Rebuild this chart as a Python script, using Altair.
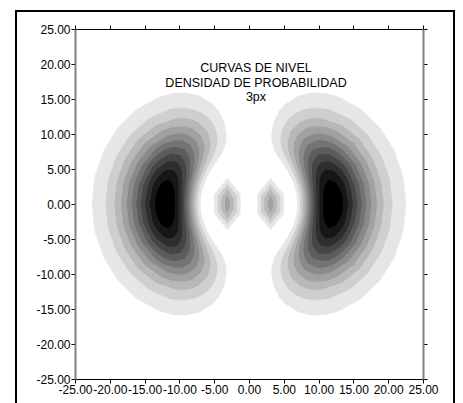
import math
import altair as alt
import pandas as pd

# ---------------- data ----------------
TICKS = [-25, -20, -15, -10, -5, 0, 5, 10, 15, 20, 25]
TITLE_LINES = ["CURVAS DE NIVEL", "DENSIDAD DE PROBABILIDAD", "3px"]

LEVELS = [1, 2, 3, 4, 5, 6, 7, 8, 9, 10, 11]

# outer lobes: for every contour level, polar samples measured from the lobe axis
# (angle in degrees from the x axis, inner and outer radius of the filled band)
PEAK_R = 12.0
TIP_ANGLE = [73.2, 65.9, 60.0, 54.7, 49.8, 45.0, 40.2, 35.3, 30.0, 24.1, 16.8]
OUTER_ANGLES = [
    [0, 10, 20, 30, 40, 50, 55, 60, 65, 70, 72],
    [0, 10, 20, 30, 40, 50, 55, 60, 63, 65],
    [0, 10, 20, 30, 40, 50, 55, 58],
    [0, 10, 20, 30, 40, 45, 50, 53],
    [0, 10, 20, 30, 40, 45, 48],
    [0, 10, 20, 30, 35, 40, 43],
    [0, 10, 20, 25, 30, 35, 38],
    [0, 10, 20, 25, 30, 33],
    [0, 10, 15, 20, 25, 28],
    [0, 10, 15, 20, 22],
    [0, 5, 10, 14],
]
R_INNER = [
    [6.95, 6.97, 7.02, 7.10, 7.26, 7.54, 7.75, 8.06, 8.56, 9.51, 10.35],
    [7.38, 7.40, 7.49, 7.62, 7.87, 8.32, 8.71, 9.33, 9.98, 10.81],
    [7.73, 7.77, 7.87, 8.06, 8.41, 9.08, 9.74, 10.46],
    [8.06, 8.10, 8.23, 8.48, 8.94, 9.33, 9.97, 10.70],
    [8.37, 8.42, 8.58, 8.89, 9.50, 10.12, 10.79],
    [8.68, 8.74, 8.93, 9.33, 9.67, 10.23, 10.83],
    [8.99, 9.07, 9.30, 9.50, 9.83, 10.34, 10.86],
    [9.33, 9.41, 9.72, 9.99, 10.45, 10.92],
    [9.69, 9.81, 9.96, 10.22, 10.64, 11.08],
    [10.12, 10.28, 10.48, 10.88, 11.17],
    [10.66, 10.70, 10.90, 11.24],
]
R_OUTER = [
    [22.60, 22.52, 22.25, 21.79, 21.08, 20.02, 19.32, 18.40, 17.15, 15.23, 13.96],
    [20.63, 20.54, 20.24, 19.74, 18.93, 17.71, 16.81, 15.58, 14.49, 13.35],
    [19.37, 19.26, 18.94, 18.40, 17.51, 16.04, 14.87, 13.79],
    [18.40, 18.29, 17.94, 17.34, 16.32, 15.58, 14.50, 13.50],
    [17.59, 17.48, 17.10, 16.42, 15.25, 14.28, 13.38],
    [16.86, 16.74, 16.34, 15.58, 14.98, 14.13, 13.34],
    [16.21, 16.07, 15.62, 15.25, 14.73, 13.99, 13.28],
    [15.58, 15.42, 14.91, 14.46, 13.80, 13.19],
    [14.95, 14.76, 14.52, 14.15, 13.57, 13.01],
    [14.28, 14.07, 13.76, 13.23, 12.91],
    [13.52, 13.44, 13.22, 12.84],
]

# small inner blobs (levels 1-4), hexagon-like
BLOB_CX = 3.1
BLOB_HALF_W = [1.9, 1.4, 0.9, 0.35]
BLOB_TOP = [3.7, 2.9, 2.2, 1.3]
BLOB_SIDE = [1.4, 1.1, 0.8, 0.5]

GRAYS = ["#e6e6e6", "#cfcfcf", "#b8b8b8", "#a1a1a1", "#8a8a8a", "#737373",
         "#5c5c5c", "#454545", "#2e2e2e", "#171717", "#000000"]

# ---------------- build polygon table ----------------
rows = []
pid = 0


def add_poly(level, pts):
    global pid
    pid += 1
    for i, (px, py) in enumerate(pts):
        rows.append({"pid": pid, "level": level, "ord": i, "x": px, "y": py})


for k, lev in enumerate(LEVELS):
    A, RI, RO, tip = OUTER_ANGLES[k], R_INNER[k], R_OUTER[k], TIP_ANGLE[k]
    ring = [(-tip, PEAK_R)]
    ring += [(-a, r) for a, r in zip(A[::-1], RO[::-1]) if a > 0]
    ring += [(a, r) for a, r in zip(A, RO)]
    ring += [(tip, PEAK_R)]
    ring += [(a, r) for a, r in zip(A[::-1], RI[::-1])]
    ring += [(-a, r) for a, r in zip(A, RI) if a > 0]
    for side in (-1, 1):
        pts = [(side * r * math.cos(math.radians(a)), r * math.sin(math.radians(a)))
               for a, r in ring]
        add_poly(lev, pts)

for j in range(len(BLOB_TOP)):
    w, t, s = BLOB_HALF_W[j], BLOB_TOP[j], BLOB_SIDE[j]
    for side in (-1, 1):
        cx = side * BLOB_CX
        add_poly(j + 1, [(cx, t), (cx + w, s), (cx + w, -s), (cx, -t),
                         (cx - w, -s), (cx - w, s)])

df = pd.DataFrame(rows)
tick_df = pd.DataFrame({"t": TICKS})

xs = alt.Scale(domain=[-25, 25], nice=False, zero=False)
ys = alt.Scale(domain=[-25, 25], nice=False, zero=False)

FONT = "Liberation Sans"
LABEL_EXPR = "replace(format(datum.value, '.2f'), '\u2212', '-')"

base = alt.Chart(df)
level_layers = []
for k, lev in enumerate(LEVELS):
    level_layers.append(
        base.transform_filter(alt.datum.level == lev)
        .mark_line(filled=True, strokeWidth=0, interpolate="linear")
        .encode(
            x=alt.X("x:Q", scale=xs, axis=None),
            y=alt.Y("y:Q", scale=ys, axis=None),
            detail="pid:N",
            order=alt.Order("ord:Q"),
            color=alt.value(GRAYS[k]),
        )
    )

common_axis = dict(values=TICKS, grid=False, title=None, tickSize=4, tickColor="black",
                   labelFont=FONT, labelFontSize=12, labelColor="black",
                   labelFlush=False, labelOverlap=False, labelPadding=1,
                   labelExpr=LABEL_EXPR)

axes_main = alt.Chart(tick_df).mark_point(opacity=0).encode(
    x=alt.X("t:Q", scale=xs, axis=alt.Axis(orient="bottom", domainColor="black",
                                            domainWidth=1, **common_axis)),
    y=alt.Y("t:Q", scale=ys, axis=alt.Axis(orient="left", domainColor="#808080",
                                            domainWidth=2, **common_axis)),
)
axes_mirror = alt.Chart(tick_df).mark_point(opacity=0).encode(
    x=alt.X("t:Q", scale=xs, axis=alt.Axis(orient="top", domainColor="black",
                                            domainWidth=1, labels=False, **common_axis)),
    y=alt.Y("t:Q", scale=ys, axis=alt.Axis(orient="right", domainColor="#808080",
                                            domainWidth=2, labels=False, **common_axis)),
)

frame = alt.Chart(pd.DataFrame({"f": [0]})).mark_rect(
    fillOpacity=0, stroke="black", strokeWidth=2
).encode(x=alt.value(-59), x2=alt.value(379), y=alt.value(-18), y2=alt.value(420))

chart = (
    alt.layer(*level_layers, axes_main, axes_mirror, frame)
    .resolve_axis(x="independent", y="independent")
    .properties(
        width=348,
        height=350,
        autosize=alt.AutoSizeParams(type="none"),
        padding={"left": 67, "top": 21, "right": 32, "bottom": 24},
        title=alt.TitleParams(
            text=TITLE_LINES, anchor="middle", frame="group", font=FONT,
            fontSize=12.5, fontWeight="normal", color="black", lineHeight=14.7,
            baseline="top", offset=0, dx=7, dy=94,
        ),
    )
    .configure_view(strokeWidth=0)
)

chart.save("out.html", embed_options={"renderer": "svg", "actions": False})
